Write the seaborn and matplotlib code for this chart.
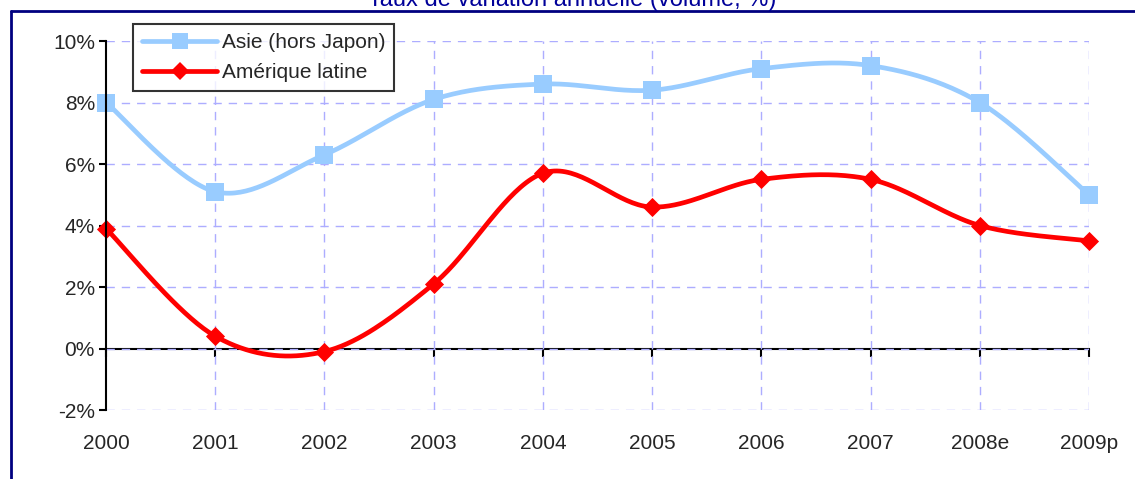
import numpy as np
import pandas as pd
import matplotlib
matplotlib.use("Agg")
import matplotlib.pyplot as plt
import seaborn as sns
from matplotlib.lines import Line2D

years = ['2000', '2001', '2002', '2003', '2004', '2005', '2006', '2007', '2008e', '2009p']
asie = [8.0, 5.1, 6.3, 8.1, 8.6, 8.4, 9.1, 9.2, 8.0, 5.0]
amerique = [3.9, 0.4, -0.1, 2.1, 5.7, 4.6, 5.5, 5.5, 4.0, 3.5]
series_names = ['Asie (hors Japon)', 'Amérique latine']
title = 'Taux de variation annuelle (volume, %)'

blue = '#99CCFF'
red = '#FF0000'
grid_col = '#ADADFF'
navy = '#000080'
fs = 15


def smooth(xs, ys, n=40):
    # Excel-like smoothing: cubic Bezier with Catmull-Rom control points
    xs = np.asarray(xs, float)
    ys = np.asarray(ys, float)
    px = np.concatenate([[xs[0]], xs, [xs[-1]]])
    py = np.concatenate([[ys[0]], ys, [ys[-1]]])
    out_x, out_y = [], []
    t = np.linspace(0, 1, n)
    for i in range(1, len(px) - 2):
        p0 = np.array([px[i], py[i]])
        p3 = np.array([px[i + 1], py[i + 1]])
        c1 = p0 + (np.array([px[i + 1], py[i + 1]]) - np.array([px[i - 1], py[i - 1]])) / 6
        c2 = p3 - (np.array([px[i + 2], py[i + 2]]) - np.array([px[i], py[i]])) / 6
        b = ((1 - t) ** 3)[:, None] * p0 + (3 * (1 - t) ** 2 * t)[:, None] * c1 \
            + (3 * (1 - t) * t ** 2)[:, None] * c2 + (t ** 3)[:, None] * p3
        out_x.extend(b[:, 0])
        out_y.extend(b[:, 1])
    return out_x, out_y


x = np.arange(len(years))
sx1, sy1 = smooth(x, asie)
sx2, sy2 = smooth(x, amerique)
curves = pd.concat([
    pd.DataFrame({'x': sx1, 'y': sy1, 'serie': series_names[0]}),
    pd.DataFrame({'x': sx2, 'y': sy2, 'serie': series_names[1]}),
])
points = pd.DataFrame({'x': list(x) * 2, 'y': asie + amerique,
                       'serie': [series_names[0]] * len(x) + [series_names[1]] * len(x)})

sns.set_style('white')
plt.rcParams['font.family'] = ['Liberation Sans', 'DejaVu Sans']

fig = plt.figure(figsize=(11.35, 4.79), dpi=100)
ax = fig.add_axes([106 / 1135, 1 - 410 / 479, 983 / 1135, 369 / 479])

# grid
for yv in range(-2, 11, 2):
    ax.axhline(yv, color=grid_col, lw=1, ls=(0, (6, 5)), zorder=1)
for xv in x[1:]:
    ax.axvline(xv, color=grid_col, lw=1, ls=(0, (6, 5)), zorder=1)

sns.lineplot(data=curves, x='x', y='y', hue='serie', palette=[blue, red],
             sort=False, estimator=None, lw=3.4, legend=False, ax=ax, zorder=3)
p1 = points[points.serie == series_names[0]]
p2 = points[points.serie == series_names[1]]
ax.scatter(p1.x, p1.y, marker='s', s=150, color=blue, zorder=4, clip_on=False, linewidths=0)
ax.scatter(p2.x, p2.y, marker='D', s=95, color=red, zorder=4, clip_on=False, linewidths=0)

ax.set_xlim(0, 9)
ax.set_ylim(-2, 10)
ax.set_yticks(range(-2, 11, 2))
ax.set_yticklabels([f'{v}%' for v in range(-2, 11, 2)], fontsize=fs)
ax.set_xticks(x)
ax.set_xticklabels(years, fontsize=fs)
ax.tick_params(axis='x', length=0, pad=17)
ax.tick_params(axis='y', length=5, width=1.5, direction='out', color='black', left=True, pad=3)
ax.set_xlabel('')
ax.set_ylabel('')
for s in ['top', 'right', 'bottom']:
    ax.spines[s].set_visible(False)
ax.spines['left'].set_color('black')
ax.spines['left'].set_linewidth(1.5)
ax.spines['left'].set_zorder(5)

# x-axis line at 0 with ticks
sec = ax.secondary_xaxis(1 / 6)
sec.set_xticks(x)
sec.set_xticklabels([])
sec.tick_params(direction='out', length=6, width=1.5, color='black')
sec.spines['bottom'].set_linewidth(1.5)
sec.spines['bottom'].set_color('black')

handles = [Line2D([0], [0], color=blue, lw=3.4, marker='s', markersize=11, markeredgewidth=0),
           Line2D([0], [0], color=red, lw=3.4, marker='D', markersize=9, markeredgewidth=0)]
leg = ax.legend(handles, series_names, loc='upper left', bbox_to_anchor=(0.0275, 1.046),
                fontsize=fs, frameon=True, fancybox=False, edgecolor='black',
                handlelength=3.6, handletextpad=0.2, borderpad=0.45, labelspacing=0.5,
                borderaxespad=0)
leg.get_frame().set_linewidth(1.5)
leg.set_zorder(6)

# chart frame and clipped title
fig.add_artist(Line2D([11 / 1135, 1], [1 - 11 / 479] * 2, color=navy, lw=2))
fig.add_artist(Line2D([11 / 1135] * 2, [0, 1 - 11 / 479], color=navy, lw=2))
fig.text(572 / 1135, 1 - 6 / 479, title, ha='center', va='baseline', fontsize=17, color='#000099')

fig.savefig('out.png', dpi=100)
